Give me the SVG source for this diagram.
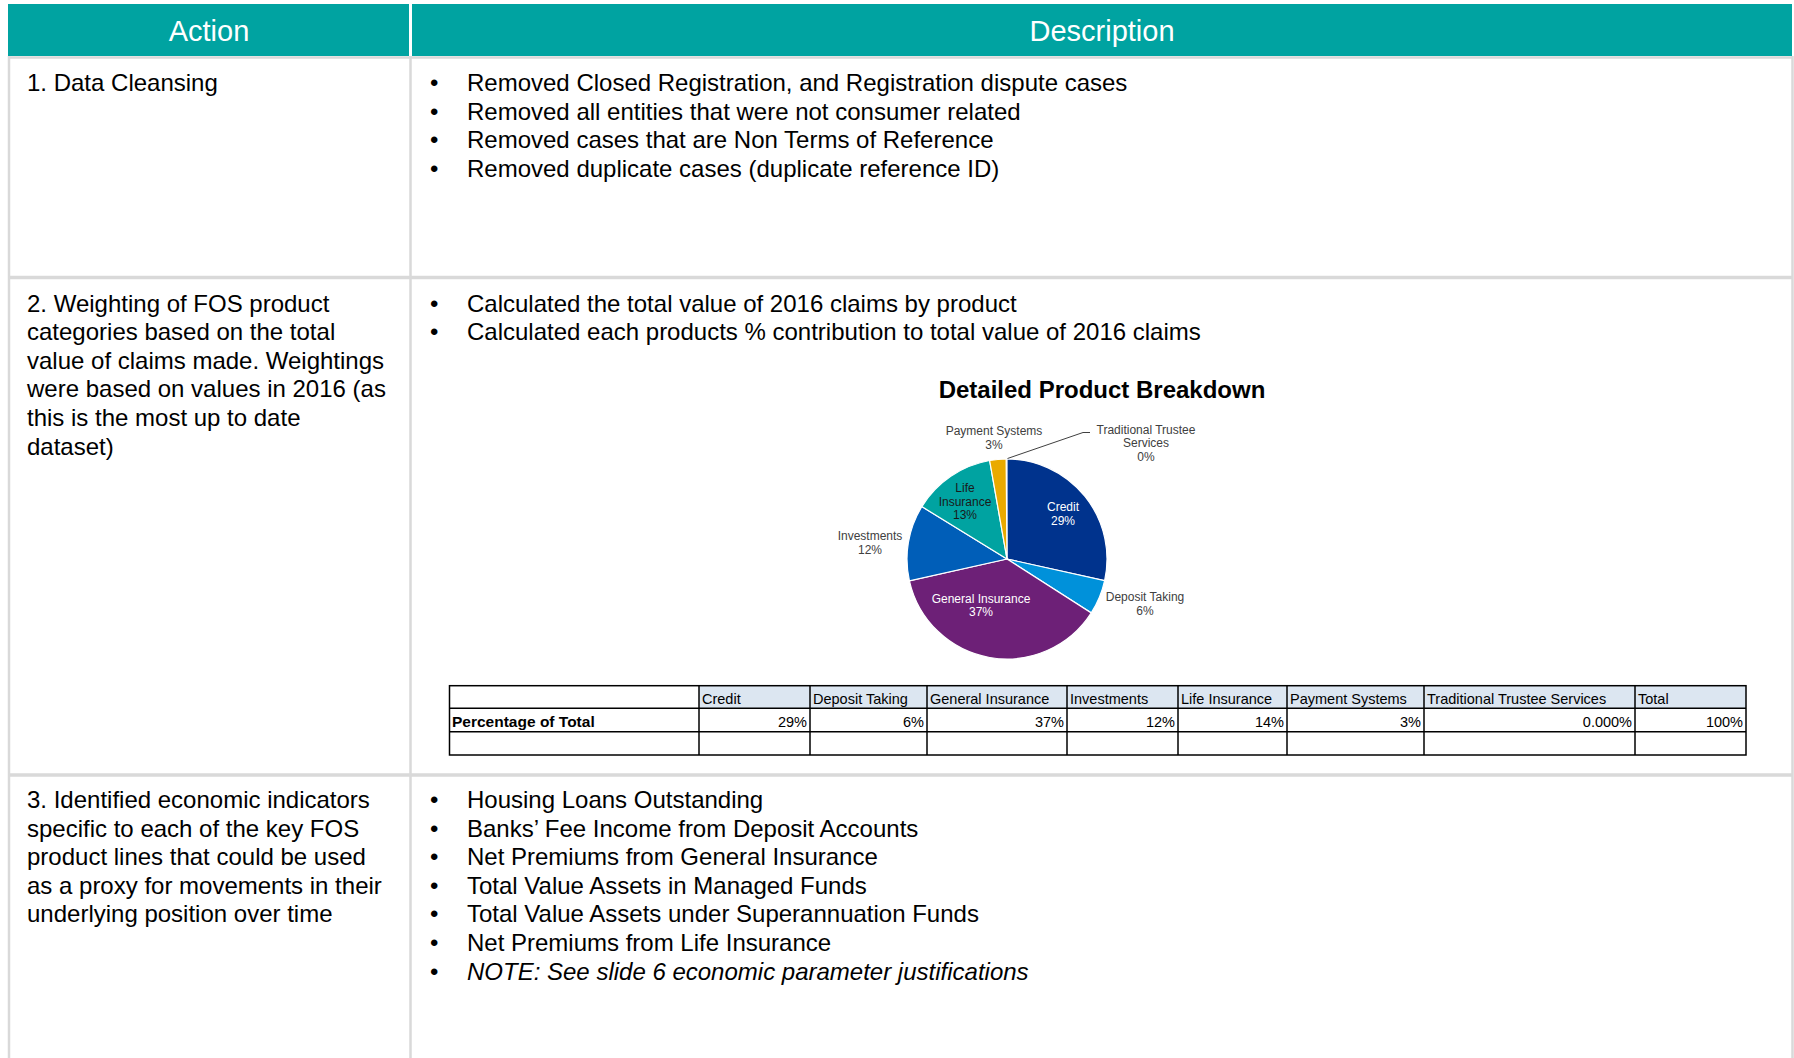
<svg xmlns="http://www.w3.org/2000/svg" width="1794" height="1058" viewBox="0 0 1794 1058">
<style>
  .hd{font-family:"Liberation Sans",Arial,sans-serif;font-size:29px;fill:#ffffff;text-anchor:middle}
  .bt{font-family:"Liberation Sans",Arial,sans-serif;font-size:24px;fill:#000000}
  .it{font-style:italic}
  .ttl{font-family:"Liberation Sans",Arial,sans-serif;font-size:24px;font-weight:bold;fill:#000000;text-anchor:middle}
  .lb{font-family:"Liberation Sans",Arial,sans-serif;font-size:12px;fill:#404040;text-anchor:middle}
  .lw{fill:#ffffff}
  .ld{fill:#1a1a1a}
  .tc{font-family:"Liberation Sans",Arial,sans-serif;font-size:14.5px;fill:#000000}
  .tb{font-weight:bold;font-size:15.5px}
  .tr{text-anchor:end}
  .grid{stroke:#d9d9d9;fill:none}
  .tl{stroke:#000000;stroke-width:1.5;fill:none}
  .sl{stroke:#ffffff;stroke-width:1.2}
</style>
<rect x="0" y="0" width="1794" height="1058" fill="#ffffff"/>

<g id="header">
  <rect x="8" y="4" width="401" height="52" fill="#00A3A1"/>
  <rect x="412" y="4" width="1380" height="52" fill="#00A3A1"/>
  <text class="hd" x="209" y="41">Action</text>
  <text class="hd" x="1102" y="41">Description</text>
</g>

<g id="grid">
  <line class="grid" x1="8" y1="57.5" x2="1793" y2="57.5" stroke-width="2.5"/>
  <line class="grid" x1="9" y1="56" x2="9" y2="1058" stroke-width="2.5"/>
  <line class="grid" x1="410.5" y1="56" x2="410.5" y2="1058" stroke-width="2.5"/>
  <line class="grid" x1="1792.5" y1="56" x2="1792.5" y2="1058" stroke-width="2.5"/>
  <line class="grid" x1="8" y1="277.5" x2="1793" y2="277.5" stroke-width="3.5"/>
  <line class="grid" x1="8" y1="775" x2="1793" y2="775" stroke-width="3.5"/>
</g>

<g id="row1">
  <text class="bt" x="27" y="91">1. Data Cleansing</text>
  <text class="bt" x="430" y="91">•</text>
  <text class="bt" x="467" y="91">Removed Closed Registration, and Registration dispute cases</text>
  <text class="bt" x="430" y="119.6">•</text>
  <text class="bt" x="467" y="119.6">Removed all entities that were not consumer related</text>
  <text class="bt" x="430" y="148.2">•</text>
  <text class="bt" x="467" y="148.2">Removed cases that are Non Terms of Reference</text>
  <text class="bt" x="430" y="176.8">•</text>
  <text class="bt" x="467" y="176.8">Removed duplicate cases (duplicate reference ID)</text>
</g>

<g id="row2">
  <text class="bt" x="27" y="311.5">2. Weighting of FOS product</text>
  <text class="bt" x="27" y="340.1">categories based on the total</text>
  <text class="bt" x="27" y="368.7">value of claims made. Weightings</text>
  <text class="bt" x="27" y="397.3">were based on values in 2016 (as</text>
  <text class="bt" x="27" y="425.9">this is the most up to date</text>
  <text class="bt" x="27" y="454.5">dataset)</text>
  <text class="bt" x="430" y="311.5">•</text>
  <text class="bt" x="467" y="311.5">Calculated the total value of 2016 claims by product</text>
  <text class="bt" x="430" y="340.1">•</text>
  <text class="bt" x="467" y="340.1">Calculated each products % contribution to total value of 2016 claims</text>
</g>

<g id="chart">
  <text class="ttl" x="1102" y="398">Detailed Product Breakdown</text>
  <g id="pie">
    <path class="sl" fill="#00338D" d="M1007,559 L1007,459 A100,100 0 0 1 1104.63,580.64 Z"/>
    <path class="sl" fill="#0091DA" d="M1007,559 L1104.63,580.64 A100,100 0 0 1 1091.25,612.88 Z"/>
    <path class="sl" fill="#6D2077" d="M1007,559 L1091.25,612.88 A100,100 0 0 1 909.41,580.81 Z"/>
    <path class="sl" fill="#005EB8" d="M1007,559 L909.41,580.81 A100,100 0 0 1 921.83,506.6 Z"/>
    <path class="sl" fill="#00A3A1" d="M1007,559 L921.83,506.6 A100,100 0 0 1 989.64,460.52 Z"/>
    <path class="sl" fill="#EAAA00" d="M1007,559 L989.64,460.52 A100,100 0 0 1 1006.13,459 Z"/>
  </g>
  <polyline points="1007.5,458.5 1083,432.5 1090,432.5" fill="none" stroke="#404040" stroke-width="1"/>
  <text class="lb lw" x="1063" y="511">Credit</text>
  <text class="lb lw" x="1063" y="525">29%</text>
  <text class="lb" x="1145" y="601">Deposit Taking</text>
  <text class="lb" x="1145" y="614.5">6%</text>
  <text class="lb lw" x="981" y="602.5">General Insurance</text>
  <text class="lb lw" x="981" y="616">37%</text>
  <text class="lb" x="870" y="540.3">Investments</text>
  <text class="lb" x="870" y="554">12%</text>
  <text class="lb ld" x="965" y="492">Life</text>
  <text class="lb ld" x="965" y="505.5">Insurance</text>
  <text class="lb ld" x="965" y="519">13%</text>
  <text class="lb" x="994" y="435.3">Payment Systems</text>
  <text class="lb" x="994" y="448.5">3%</text>
  <text class="lb" x="1146" y="433.5">Traditional Trustee</text>
  <text class="lb" x="1146" y="447">Services</text>
  <text class="lb" x="1146" y="461">0%</text>
</g>

<g id="table">
  <rect x="699" y="685.7" width="1047" height="22.6" fill="#DCE6F1"/>
  <rect class="tl" x="449.5" y="685.7" width="1296.5" height="69.3"/>
  <line class="tl" x1="449.5" y1="708.3" x2="1746" y2="708.3"/>
  <line class="tl" x1="449.5" y1="731.7" x2="1746" y2="731.7"/>
  <line class="tl" x1="699" y1="685.7" x2="699" y2="755"/>
  <line class="tl" x1="810" y1="685.7" x2="810" y2="755"/>
  <line class="tl" x1="927" y1="685.7" x2="927" y2="755"/>
  <line class="tl" x1="1067" y1="685.7" x2="1067" y2="755"/>
  <line class="tl" x1="1178" y1="685.7" x2="1178" y2="755"/>
  <line class="tl" x1="1287" y1="685.7" x2="1287" y2="755"/>
  <line class="tl" x1="1424" y1="685.7" x2="1424" y2="755"/>
  <line class="tl" x1="1635" y1="685.7" x2="1635" y2="755"/>
  <text class="tc" x="702" y="703.5">Credit</text>
  <text class="tc" x="813" y="703.5">Deposit Taking</text>
  <text class="tc" x="930" y="703.5">General Insurance</text>
  <text class="tc" x="1070" y="703.5">Investments</text>
  <text class="tc" x="1181" y="703.5">Life Insurance</text>
  <text class="tc" x="1290" y="703.5">Payment Systems</text>
  <text class="tc" x="1427" y="703.5">Traditional Trustee Services</text>
  <text class="tc" x="1638" y="703.5">Total</text>
  <text class="tc tb" x="452" y="727">Percentage of Total</text>
  <text class="tc tr" x="807" y="727">29%</text>
  <text class="tc tr" x="924" y="727">6%</text>
  <text class="tc tr" x="1064" y="727">37%</text>
  <text class="tc tr" x="1175" y="727">12%</text>
  <text class="tc tr" x="1284" y="727">14%</text>
  <text class="tc tr" x="1421" y="727">3%</text>
  <text class="tc tr" x="1632" y="727">0.000%</text>
  <text class="tc tr" x="1743" y="727">100%</text>
</g>

<g id="row3">
  <text class="bt" x="27" y="808">3. Identified economic indicators</text>
  <text class="bt" x="27" y="836.6">specific to each of the key FOS</text>
  <text class="bt" x="27" y="865.2">product lines that could be used</text>
  <text class="bt" x="27" y="893.8">as a proxy for movements in their</text>
  <text class="bt" x="27" y="922.4">underlying position over time</text>
  <text class="bt" x="430" y="808">•</text>
  <text class="bt" x="467" y="808">Housing Loans Outstanding</text>
  <text class="bt" x="430" y="836.6">•</text>
  <text class="bt" x="467" y="836.6">Banks’ Fee Income from Deposit Accounts</text>
  <text class="bt" x="430" y="865.2">•</text>
  <text class="bt" x="467" y="865.2">Net Premiums from General Insurance</text>
  <text class="bt" x="430" y="893.8">•</text>
  <text class="bt" x="467" y="893.8">Total Value Assets in Managed Funds</text>
  <text class="bt" x="430" y="922.4">•</text>
  <text class="bt" x="467" y="922.4">Total Value Assets under Superannuation Funds</text>
  <text class="bt" x="430" y="951">•</text>
  <text class="bt" x="467" y="951">Net Premiums from Life Insurance</text>
  <text class="bt" x="430" y="979.6">•</text>
  <text class="bt it" x="467" y="979.6">NOTE: See slide 6 economic parameter justifications</text>
</g>
</svg>
